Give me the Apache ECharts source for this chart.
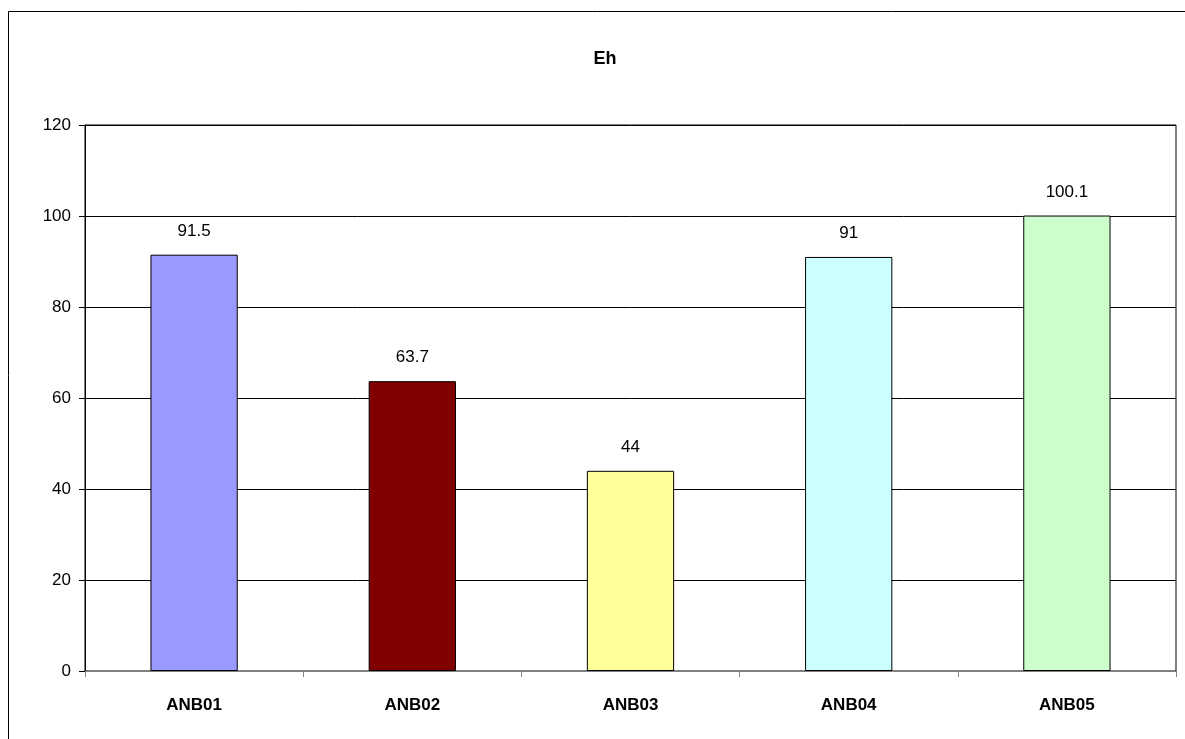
<!DOCTYPE html>
<html>
<head>
<meta charset="utf-8">
<script src="https://cdn.jsdelivr.net/npm/echarts@6/dist/echarts.min.js"></script>
<style>
html,body{margin:0;padding:0;background:#fff;}
#chart{width:1185px;height:739px;}
</style>
</head>
<body>
<div id="chart"></div>
<script>
const categories = ['ANB01', 'ANB02', 'ANB03', 'ANB04', 'ANB05'];
const values = [91.5, 63.7, 44, 91, 100.1];
const barColors = ['#9999FF', '#800000', '#FFFF99', '#CCFFFF', '#CCFFCC'];
const yTicks = [0, 20, 40, 60, 80, 100, 120];
const titleText = 'Eh';

const chart = echarts.init(document.getElementById('chart'));
chart.setOption({
  animation: false,
  backgroundColor: '#fff',
  title: {
    text: titleText,
    left: 600, top: 45,
    textAlign: 'center',
    textStyle: { fontFamily: 'Liberation Sans, Arial', fontWeight: 'bold', fontSize: 18, color: '#000' }
  },
  graphic: [{
    type: 'rect',
    shape: { x: 8.5, y: 11.5, width: 1200, height: 760 },
    style: { fill: 'none', stroke: '#000', lineWidth: 1 },
    z: -1
  }],
  grid: {
    left: 85, top: 125, width: 1091, height: 546,
    show: true, borderColor: '#000', borderWidth: 1, backgroundColor: 'transparent'
  },
  xAxis: {
    type: 'category',
    data: categories,
    axisLine: { lineStyle: { color: '#808080', width: 1 } },
    axisTick: { show: true, length: 6, lineStyle: { color: '#808080' } },
    axisLabel: { margin: 26, fontFamily: 'Liberation Sans, Arial', fontWeight: 'bold', fontSize: 17, color: '#000' }
  },
  yAxis: {
    type: 'value',
    min: yTicks[0], max: yTicks[yTicks.length - 1], interval: yTicks[1] - yTicks[0],
    axisLine: { show: true, lineStyle: { color: '#000', width: 1 } },
    axisTick: { show: true, length: 6, lineStyle: { color: '#000' } },
    splitLine: { show: true, lineStyle: { color: '#000', width: 1 } },
    axisLabel: { margin: 14, fontFamily: 'Liberation Sans, Arial', fontSize: 17, color: '#000' }
  },
  series: [{
    type: 'bar',
    data: values.map((v, i) => ({ value: v, itemStyle: { color: barColors[i] } })),
    barCategoryGap: '60%',
    itemStyle: { borderColor: '#000', borderWidth: 1 },
    label: { show: true, position: 'top', distance: 15, fontFamily: 'Liberation Sans, Arial', fontSize: 17, color: '#000' }
  }]
});
</script>
</body>
</html>
